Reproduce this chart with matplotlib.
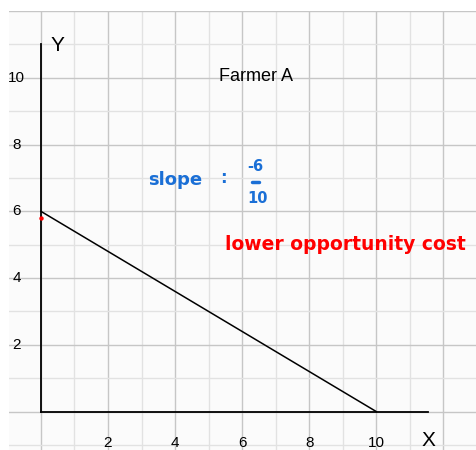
import matplotlib
matplotlib.use("Agg")
import matplotlib.pyplot as plt
import numpy as np

# data
ppf_x = [0, 10]
ppf_y = [6, 0]
dot_x = [0]
dot_y = [5.8]
xtick_vals = [2, 4, 6, 8, 10]
ytick_vals = [2, 4, 6, 8, 10]
title = "Farmer A"
slope_word = "slope"
slope_num = "-6"
slope_den = "10"
note = "lower opportunity cost"

W, H = 477, 450
fig = plt.figure(figsize=(W / 100, H / 100), dpi=100)
fig.patch.set_facecolor("white")
left_px, top_px = 9, 11
ax = fig.add_axes([left_px / W, 0, 1 - left_px / W, (H - top_px) / H])
ax.set_facecolor("#fbfbfb")
ax.set_xlim(-0.95, 13.0)
ax.set_ylim(-1.15, 12.0)
for s in ax.spines.values():
    s.set_visible(False)
ax.set_xticks([])
ax.set_yticks([])

# grid
for v in range(-1, 14):
    c = "#c6c6c6" if v % 2 == 0 else "#e2e2e2"
    ax.axvline(v, color=c, lw=1.0, zorder=0)
for v in range(-1, 13):
    c = "#c6c6c6" if v % 2 == 0 else "#e2e2e2"
    ax.axhline(v, color=c, lw=1.0, zorder=0)

# axes lines
ax.plot([0, 0], [0, 11.0], color="black", lw=1.3, zorder=3)
ax.plot([0, 11.55], [0, 0], color="black", lw=1.3, zorder=3)

font = ["Liberation Sans", "DejaVu Sans"]
for v in ytick_vals:
    ax.text(-0.72, v, str(v), ha="center", va="center", fontsize=11, family=font)
for v in xtick_vals:
    ax.text(v, -0.95, str(v), ha="center", va="center", fontsize=11, family=font)
ax.text(0.3, 10.98, "Y", ha="left", va="center", fontsize=15, family=font)
ax.text(11.55, -0.87, "X", ha="center", va="center", fontsize=15, family=font)
ax.text(6.4, 10.05, title, ha="center", va="center", fontsize=13, family=font)

# PPF line
ax.plot(ppf_x, ppf_y, color="black", lw=1.1, zorder=4)
ax.scatter(dot_x, dot_y, color="red", s=10, zorder=5, linewidths=0)

# handwritten notes
hand = ["DejaVu Sans"]
blue = "#1a6fd6"
ax.text(3.2, 6.95, slope_word, color=blue, fontsize=13, fontweight="bold",
        family=hand, ha="left", va="center")
ax.text(5.45, 7.0, ":", color=blue, fontsize=12, fontweight="bold",
        family=hand, ha="center", va="center")
ax.text(6.4, 7.35, slope_num, color=blue, fontsize=10.5, fontweight="bold",
        family=hand, ha="center", va="center")
ax.plot([6.3, 6.5], [6.87, 6.87], color=blue, lw=2.5, solid_capstyle="round")
ax.text(6.45, 6.39, slope_den, color=blue, fontsize=10.5, fontweight="bold",
        family=hand, ha="center", va="center")
ax.text(5.5, 5.0, note, color="red", fontsize=13.5, fontweight="bold",
        family=hand, ha="left", va="center", clip_on=True)

fig.savefig("out.png", dpi=100)
